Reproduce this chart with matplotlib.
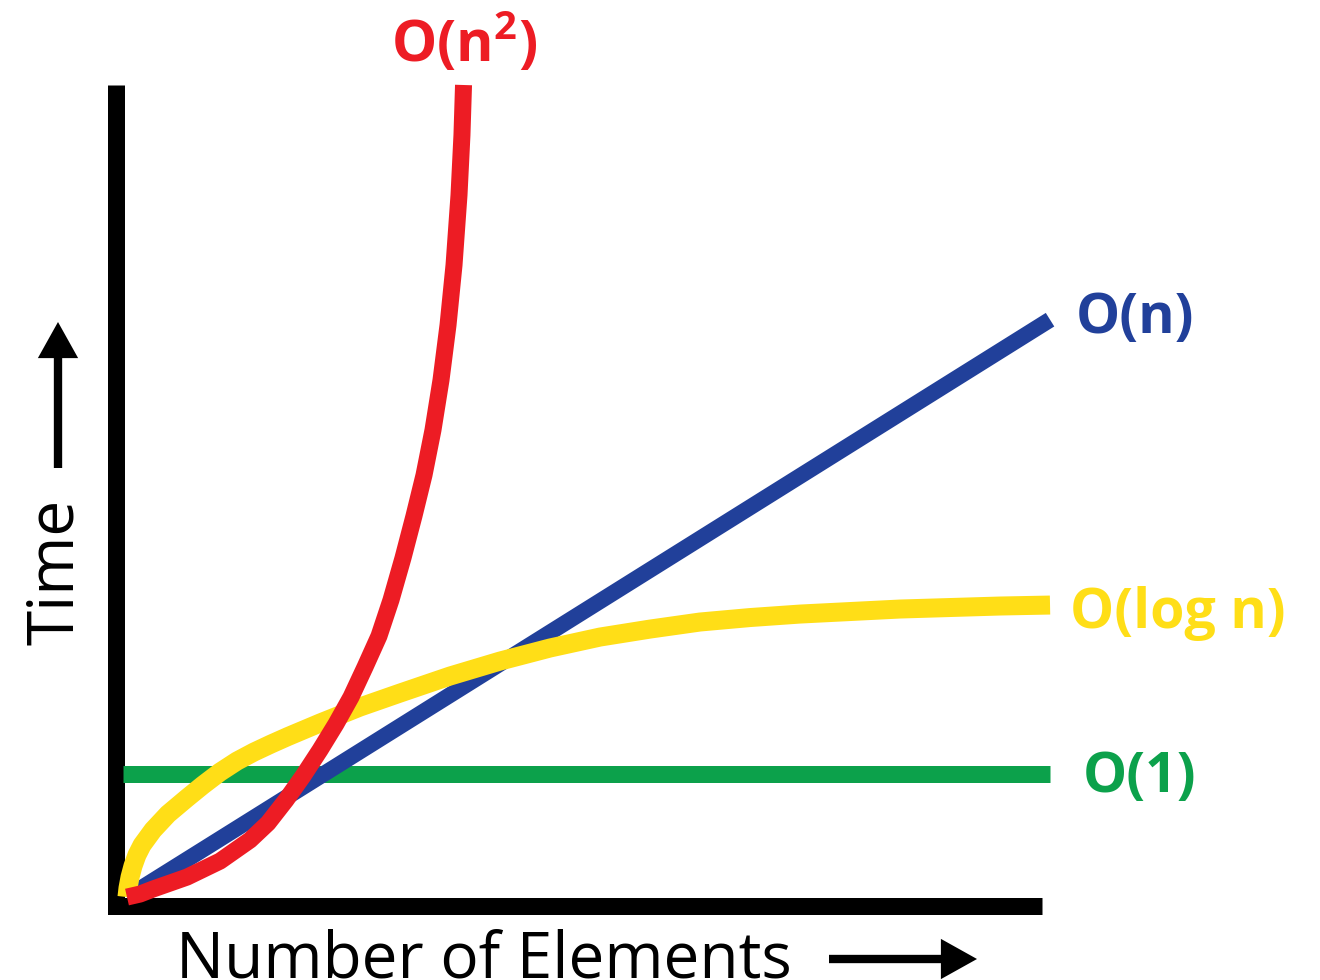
import matplotlib
matplotlib.use("Agg")
import matplotlib.pyplot as plt
from matplotlib.patches import FancyArrowPatch

plt.rcParams["mathtext.default"] = "regular"

# couleurs des courbes
RED, BLUE, YELLOW, GREEN = "#ED1C24", "#21409A", "#FFDE17", "#0CA14B"

# O(n^2) (x = nombre d'elements, y = temps)
quad_x = [0, 1.41, 2.82, 6.50, 10.08, 13.33, 15.28, 17.23, 19.07, 20.91, 22.64,
          24.27, 25.79, 27.30, 28.60, 29.90, 31.09, 32.18, 33.15, 34.02, 34.78,
          35.43, 35.97, 36.29, 36.46]
quad_y = [0, 0.37, 0.99, 2.46, 4.43, 7.02, 9.11, 11.95, 14.90, 18.10, 21.31,
          24.63, 28.33, 32.14, 36.58, 41.75, 46.92, 51.97, 57.51, 63.67, 70.44,
          77.83, 86.45, 93.84, 100]

# O(n)
lin_x = [0, 100]
lin_y = [0, 71.1]

# O(log n)
log_x = [0, 0.11, 0.33, 0.65, 1.08, 1.63, 2.82, 4.44, 6.50, 8.23, 10.08, 11.92,
         13.76, 15.60, 17.44, 20.91, 25.24, 29.58, 35.00, 40.41, 45.83, 51.25,
         56.66, 62.08, 67.50, 72.91, 83.75, 94.58, 100]
log_y = [0, 1.11, 2.46, 3.82, 5.17, 6.40, 8.25, 10.22, 12.19, 13.79, 15.39, 16.75,
         17.86, 18.84, 19.77, 21.43, 23.40, 25.12, 27.22, 29.06, 30.67, 32.02,
         33.00, 33.87, 34.42, 34.85, 35.47, 35.84, 35.96]

# O(1)
const_x = [-0.4, 100]
const_y = [15.1, 15.1]

labels = ["O(n$^2$)", "O(n)", "O(log n)", "O(1)"]

fig = plt.figure(figsize=(13.2, 9.8), dpi=100)
W, H = 1320, 980
# axes : coin bas-gauche au centre des barres noires
ax = fig.add_axes([116 / W, (980 - 906) / H, (1042 - 116) / W, (906 - 85) / H])
ax.set_xlim(-1.19, 99.13)
ax.set_ylim(-1.1, 100)
ax.axis("off")

px = 0.72  # pixels -> points
# cadre noir (axes en L)
ax.plot([0, 0, 1], [1, 0, 0], transform=ax.transAxes, color="black",
        lw=17 * px, solid_joinstyle="miter", solid_capstyle="butt",
        clip_on=False, zorder=1)

common = dict(solid_capstyle="butt", solid_joinstyle="round", clip_on=False)
ax.plot(const_x, const_y, color=GREEN, lw=17 * px, zorder=2, **common)
ax.plot(lin_x, lin_y, color=BLUE, lw=16 * px, zorder=3, **common)
ax.plot(log_x, log_y, color=YELLOW, lw=19 * px, zorder=4, **common)
ax.plot(quad_x, quad_y, color=RED, lw=17 * px, zorder=5, **common)

bold = dict(family="Open Sans", weight="bold", fontsize=40, ha="left",
            va="baseline")
ax.text(28.6, 102.83, labels[0], color=RED, **dict(bold, fontsize=41))
ax.text(102.74, 69.46, labels[1], color=BLUE, **bold)
ax.text(102.17, 33.13, labels[2], color=YELLOW, **bold)
ax.text(103.57, 12.93, labels[3], color=GREEN, **bold)

# titres des axes avec fleches
fig.text(176 / W, 1 - 977 / H, "Number of Elements", family="Open Sans",
         fontsize=46, ha="left", va="baseline")
fig.text(73 / W, 1 - 645 / H, "Time", family="Open Sans", fontsize=46,
         rotation=90, rotation_mode="anchor", ha="left", va="baseline")

arrow = dict(arrowstyle="simple,tail_width=6,head_width=29,head_length=26",
             color="black", lw=0, mutation_scale=1, shrinkA=0, shrinkB=0,
             transform=fig.transFigure)
fig.add_artist(FancyArrowPatch((829 / W, 1 - 959 / H), (977 / W, 1 - 959 / H),
                               **arrow))
fig.add_artist(FancyArrowPatch((58 / W, 1 - 468 / H), (58 / W, 1 - 322 / H),
                               **arrow))

fig.savefig("out.png", dpi=100)
